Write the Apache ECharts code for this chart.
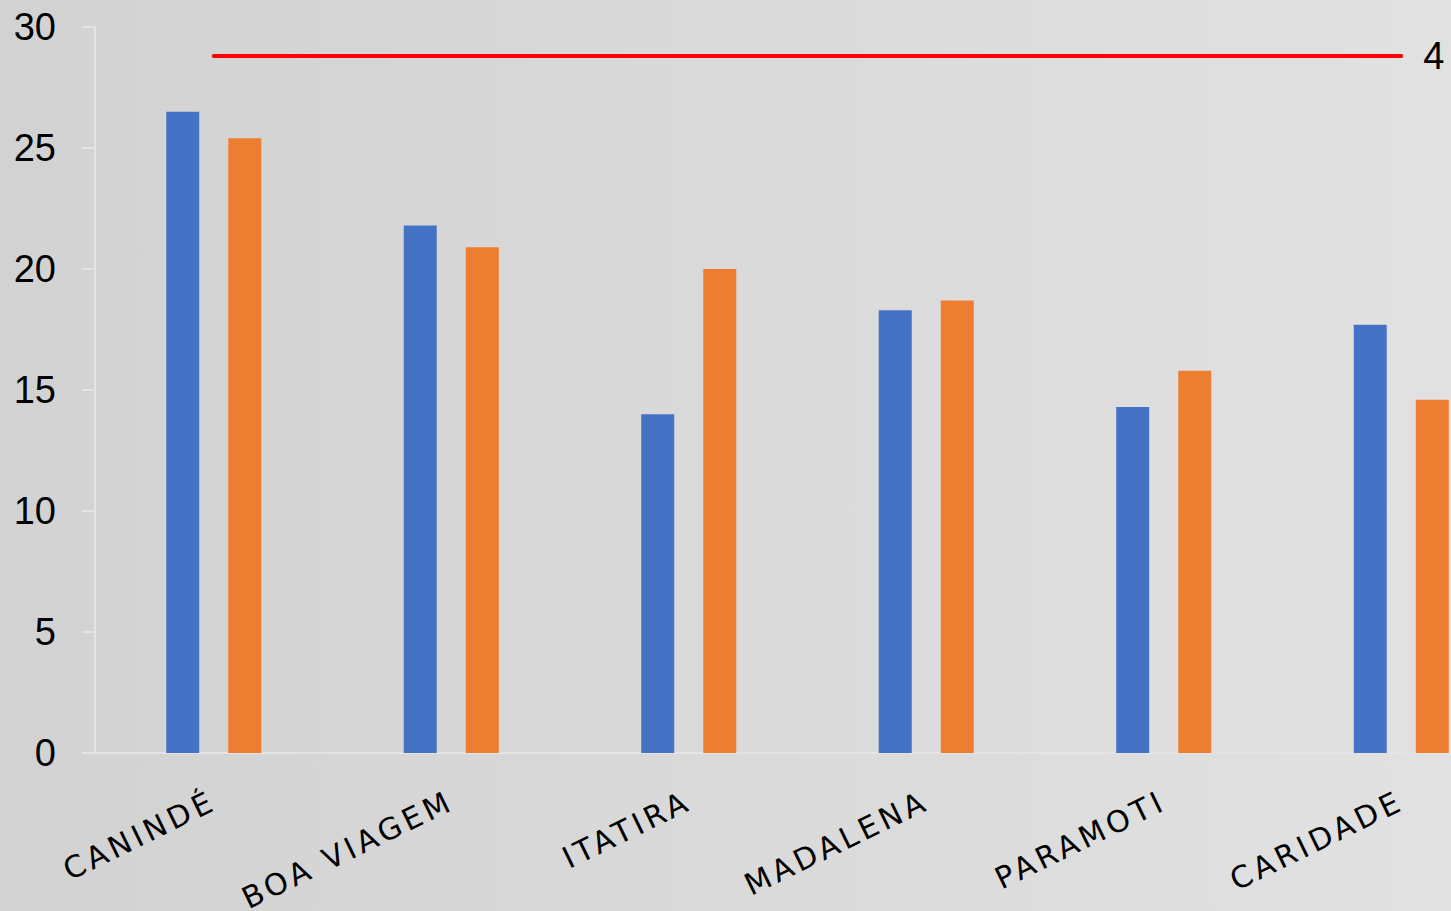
<!DOCTYPE html>
<html>
<head>
<meta charset="utf-8">
<script src="https://cdn.jsdelivr.net/npm/echarts@6/dist/echarts.min.js"></script>
<style>
html,body{margin:0;padding:0;width:1451px;height:911px;overflow:hidden;background:#dcdcdc;}
#chart{width:1525px;height:911px;}
#chart text[style*="DejaVu"]{letter-spacing:4px;}
</style>
</head>
<body>
<div id="chart"></div>
<script>
const categories = ['CANINDÉ', 'BOA VIAGEM', 'ITATIRA', 'MADALENA', 'PARAMOTI', 'CARIDADE'];
const seriesBlue = [26.5, 21.8, 14.0, 18.3, 14.3, 17.7];
const seriesOrange = [25.4, 20.9, 20.0, 18.7, 15.8, 14.6];
const referenceLine = [28.8, 28.8, 28.8, 28.8, 28.8, 28.8];
const referenceLabel = '4';
const yTicks = { min: 0, max: 30, interval: 5 };

const chart = echarts.init(document.getElementById('chart'), null, { renderer: 'svg' });
chart.setOption({
  animation: false,
  backgroundColor: {
    type: 'linear', x: 0, y: 0, x2: 1, y2: 0,
    colorStops: [{offset: 0, color: '#d2d2d2'}, {offset: 1, color: '#e2e2e2'}]
  },
  grid: { left: 95, top: 27, right: 5, height: 726, containLabel: false },
  xAxis: {
    type: 'category',
    data: categories,
    axisLine: { lineStyle: { color: '#e4e4e4', width: 2 } },
    axisTick: { show: false },
    axisLabel: {
      rotate: 26,
      margin: 46,
      color: '#000',
      fontFamily: 'DejaVu Sans',
      fontSize: 30,
      interval: 0
    }
  },
  yAxis: {
    type: 'value',
    min: yTicks.min, max: yTicks.max, interval: yTicks.interval,
    axisLine: { show: true, lineStyle: { color: '#e4e4e4', width: 2 } },
    axisTick: { show: true, length: 13, lineStyle: { color: '#e4e4e4', width: 2 } },
    splitLine: { show: false },
    axisLabel: {
      margin: 39,
      color: '#000',
      fontFamily: 'Liberation Sans',
      fontSize: 38
    }
  },
  series: [
    {
      type: 'bar', data: seriesBlue, barWidth: 33, barGap: '88%',
      itemStyle: { color: '#4472c4' }
    },
    {
      type: 'bar', data: seriesOrange, barWidth: 33, barGap: '88%',
      itemStyle: { color: '#ed7d31' }
    },
    {
      type: 'line', data: referenceLine, symbol: 'none',
      lineStyle: { color: '#ff0000', width: 4, cap: 'round' },
      endLabel: {
        show: true, formatter: referenceLabel, distance: 22,
        color: '#000', fontFamily: 'Liberation Sans', fontSize: 38
      }
    }
  ]
});
</script>
</body>
</html>
